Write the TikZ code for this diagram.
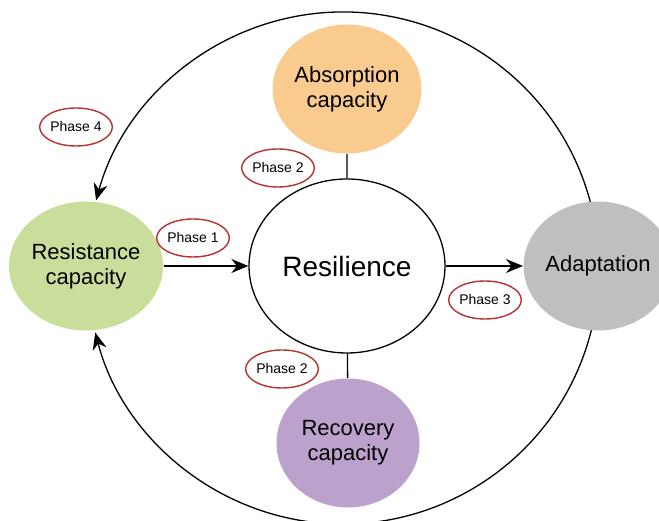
\documentclass[tikz,border=0pt]{standalone}
\usepackage{fontspec}
\setmainfont{Liberation Sans}
\usetikzlibrary{shapes.geometric,arrows.meta}
\definecolor{absorb}{HTML}{F9CB8F}
\definecolor{resist}{HTML}{C9DE9B}
\definecolor{recov}{HTML}{BBA1CC}
\definecolor{adapt}{HTML}{BFBFBF}
\definecolor{phasered}{HTML}{B83232}

\begin{document}
\begin{tikzpicture}[x=1pt,y=1pt,line width=1.3pt,
 every node/.style={align=center},
 bubble/.style={ellipse,inner sep=0pt,minimum width=143pt,minimum height=129pt,font=\fontsize{22}{25}\selectfont},
 phase/.style={ellipse,draw=phasered,line width=1.4pt,inner sep=0pt,minimum width=70pt,minimum height=38pt,font=\fontsize{14}{16}\selectfont},
 arr/.style={-{Stealth[length=17pt,width=14pt]}}]
\clip (0,0) rectangle (659,521);
\fill[white] (0,0) rectangle (659,521);
% outer loop
\coordinate (o) at (343,253);
\draw[arr] (o) ++(14.7:256) arc[start angle=14.7,end angle=164.7,radius=256];
\draw[arr] (o) ++(-14:256) arc[start angle=-14,end angle=-165.4,radius=256];
% circles
\node[ellipse,draw,minimum width=196pt,minimum height=174pt,font=\fontsize{28}{32}\selectfont] (R) at (347,255) {Resilience};
\node[bubble,fill=absorb] (A) at (347,432) {Absorption\\capacity};
\node[bubble,fill=recov] (V) at (348,78) {Recovery\\capacity};
\node[bubble,fill=resist] (S) at (86,255) {Resistance\\capacity};
\node[bubble,fill=adapt] (D) at (598,255) {Adaptation};
\draw (A)--(R)--(V);
\draw[arr] (S)--(R);
\draw[arr] (R)--(D);
% phases
\node[phase] (p4) at (76,394) {Phase 4};
\node[phase] (p2a) at (278,353) {Phase 2};
\node[phase] (p1) at (193,283) {Phase 1};
\node[phase] (p2b) at (282,152) {Phase 2};
\node[phase] (p3) at (485,221) {Phase 3};
\end{tikzpicture}
\end{document}
